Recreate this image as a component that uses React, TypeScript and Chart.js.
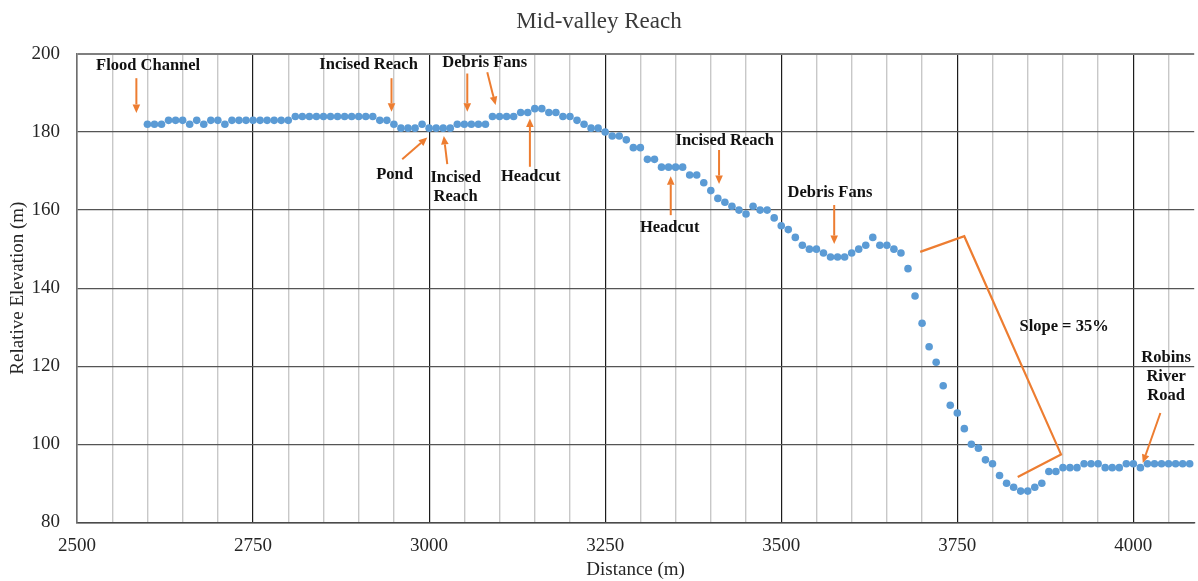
import React, { useEffect, useRef } from 'react';
import { Chart, registerables } from 'chart.js';

Chart.register(...registerables);

const chartTitle = 'Mid-valley Reach';
const xAxisTitle = 'Distance (m)';
const yAxisTitle = 'Relative Elevation (m)';

const distances = [
  2600, 2610, 2620, 2630, 2640, 2650, 2660, 2670, 2680, 2690,
  2700, 2710, 2720, 2730, 2740, 2750, 2760, 2770, 2780, 2790,
  2800, 2810, 2820, 2830, 2840, 2850, 2860, 2870, 2880, 2890,
  2900, 2910, 2920, 2930, 2940, 2950, 2960, 2970, 2980, 2990,
  3000, 3010, 3020, 3030, 3040, 3050, 3060, 3070, 3080, 3090,
  3100, 3110, 3120, 3130, 3140, 3150, 3160, 3170, 3180, 3190,
  3200, 3210, 3220, 3230, 3240, 3250, 3260, 3270, 3280, 3290,
  3300, 3310, 3320, 3330, 3340, 3350, 3360, 3370, 3380, 3390,
  3400, 3410, 3420, 3430, 3440, 3450, 3460, 3470, 3480, 3490,
  3500, 3510, 3520, 3530, 3540, 3550, 3560, 3570, 3580, 3590,
  3600, 3610, 3620, 3630, 3640, 3650, 3660, 3670, 3680, 3690,
  3700, 3710, 3720, 3730, 3740, 3750, 3760, 3770, 3780, 3790,
  3800, 3810, 3820, 3830, 3840, 3850, 3860, 3870, 3880, 3890,
  3900, 3910, 3920, 3930, 3940, 3950, 3960, 3970, 3980, 3990,
  4000, 4010, 4020, 4030, 4040, 4050, 4060, 4070, 4080,
];

const elevations = [
  182, 182, 182, 183, 183, 183, 182, 183, 182, 183,
  183, 182, 183, 183, 183, 183, 183, 183, 183, 183,
  183, 184, 184, 184, 184, 184, 184, 184, 184, 184,
  184, 184, 184, 183, 183, 182, 181, 181, 181, 182,
  181, 181, 181, 181, 182, 182, 182, 182, 182, 184,
  184, 184, 184, 185, 185, 186, 186, 185, 185, 184,
  184, 183, 182, 181, 181, 180, 179, 179, 178, 176,
  176, 173, 173, 171, 171, 171, 171, 169, 169, 167,
  165, 163, 162, 161, 160, 159, 161, 160, 160, 158,
  156, 155, 153, 151, 150, 150, 149, 148, 148, 148,
  149, 150, 151, 153, 151, 151, 150, 149, 145, 138,
  131, 125, 121, 115, 110, 108, 104, 100, 99, 96,
  95, 92, 90, 89, 88, 88, 89, 90, 93, 93,
  94, 94, 94, 95, 95, 95, 94, 94, 94, 95,
  95, 94, 95, 95, 95, 95, 95, 95, 95,
];

// Annotation labels (data coordinates of the first line's centre)
const noteTexts = [
  ['Flood Channel'],
  ['Incised Reach'],
  ['Debris Fans'],
  ['Pond'],
  ['Incised', 'Reach'],
  ['Headcut'],
  ['Incised Reach'],
  ['Headcut'],
  ['Debris Fans'],
  ['Slope = 35%'],
  ['Robins', 'River', 'Road'],
];
const noteX = [2601, 2914, 3079, 2951, 3037.6, 3144.2, 3419.8, 3341.7, 3569.1, 3901.6, 4046.5];
const noteY = [196.9, 197.2, 197.7, 169.0, 168.2, 168.5, 177.8, 155.6, 164.5, 130.1, 122.1];

// Arrows: start (x1, y1) -> tip (x2, y2), data coordinates
const arrowX1 = [2584.3, 2946.6, 3054.2, 3082.6, 2961.8, 3025.8, 3143.1, 3411.7, 3343.1, 3575.2, 4038.4];
const arrowY1 = [193.8, 193.8, 195.0, 195.3, 173.0, 171.8, 171.1, 175.4, 158.7, 161.3, 108.0];
const arrowX2 = [2584.3, 2946.6, 3054.2, 3094.4, 2997.4, 3020.9, 3143.1, 3411.7, 3343.1, 3575.2, 4013.4];
const arrowY2 = [184.9, 185.2, 185.2, 186.9, 178.6, 179.0, 183.5, 166.7, 168.7, 151.3, 95.2];

// Slope bracket polyline
const slopeX = [3697.3, 3759.9, 3897.3, 3835.8];
const slopeY = [149.3, 153.3, 97.4, 91.6];

const ORANGE = '#ED7D31';
const POINT_BLUE = '#5B9BD5';
const SERIF = '"Liberation Serif", "Times New Roman", serif';

function drawArrow(ctx: CanvasRenderingContext2D, x1: number, y1: number, x2: number, y2: number) {
  const ang = Math.atan2(y2 - y1, x2 - x1);
  const headLen = 8.5;
  const headHalf = 3.8;
  const bx = x2 - headLen * Math.cos(ang);
  const by = y2 - headLen * Math.sin(ang);
  ctx.beginPath();
  ctx.moveTo(x1, y1);
  ctx.lineTo(bx, by);
  ctx.stroke();
  ctx.beginPath();
  ctx.moveTo(x2, y2);
  ctx.lineTo(bx + headHalf * Math.sin(ang), by - headHalf * Math.cos(ang));
  ctx.lineTo(bx - headHalf * Math.sin(ang), by + headHalf * Math.cos(ang));
  ctx.closePath();
  ctx.fill();
}

const annotationPlugin = {
  id: 'riverAnnotations',
  afterDatasetsDraw(chart: any) {
    const { ctx } = chart;
    const xs = chart.scales.x;
    const ys = chart.scales.y;
    ctx.save();
    ctx.strokeStyle = ORANGE;
    ctx.fillStyle = ORANGE;
    ctx.lineWidth = 2;
    ctx.lineCap = 'butt';
    for (let i = 0; i < arrowX1.length; i++) {
      drawArrow(
        ctx,
        xs.getPixelForValue(arrowX1[i]),
        ys.getPixelForValue(arrowY1[i]),
        xs.getPixelForValue(arrowX2[i]),
        ys.getPixelForValue(arrowY2[i])
      );
    }
    ctx.lineWidth = 2.2;
    ctx.lineJoin = 'miter';
    ctx.beginPath();
    slopeX.forEach((v, i) => {
      const px = xs.getPixelForValue(v);
      const py = ys.getPixelForValue(slopeY[i]);
      if (i === 0) ctx.moveTo(px, py);
      else ctx.lineTo(px, py);
    });
    ctx.stroke();

    ctx.fillStyle = '#111111';
    ctx.font = `bold 16.5px ${SERIF}`;
    ctx.textAlign = 'center';
    ctx.textBaseline = 'middle';
    noteTexts.forEach((lines, i) => {
      const px = xs.getPixelForValue(noteX[i]);
      const py = ys.getPixelForValue(noteY[i]);
      lines.forEach((t, j) => ctx.fillText(t, px, py + j * 19));
    });
    ctx.restore();
  },
};

export default function App() {
  const canvasRef = useRef<HTMLCanvasElement | null>(null);

  useEffect(() => {
    if (!canvasRef.current) return;
    const points = distances.map((d, i) => ({ x: d, y: elevations[i] }));
    const chart = new Chart(canvasRef.current, {
      type: 'scatter',
      data: {
        datasets: [
          {
            label: 'Elevation',
            data: points,
            backgroundColor: POINT_BLUE,
            borderColor: POINT_BLUE,
            borderWidth: 0,
            pointRadius: 3.8,
            pointHoverRadius: 3.8,
            showLine: false,
          },
        ],
      },
      options: {
        animation: false,
        responsive: true,
        maintainAspectRatio: false,
        layout: { padding: { left: 0, right: 0, top: 0, bottom: 0 } },
        plugins: {
          legend: { display: false },
          tooltip: { enabled: false },
          title: {
            display: true,
            text: chartTitle,
            color: '#3a3a3a',
            font: { family: SERIF, size: 23, weight: 'normal' },
            padding: { top: 8, bottom: 18.4 },
          },
        },
        scales: {
          x: {
            type: 'linear',
            min: 2500,
            max: 4086.4,
            afterFit(scale: any) {
              scale.height = 58.7;
            },
            ticks: {
              stepSize: 50,
              includeBounds: false,
              autoSkip: false,
              maxRotation: 0,
              minRotation: 0,
              padding: 12,
              color: '#262626',
              font: { family: SERIF, size: 19 },
              callback: (v: any) => (Number(v) % 250 === 0 ? String(v) : ''),
            },
            grid: {
              drawTicks: false,
              color: (c: any) =>
                c.tick && Number(c.tick.value) % 250 === 0 ? '#1c1c1c' : '#c8c8c8',
              lineWidth: (c: any) =>
                c.tick && Number(c.tick.value) % 250 === 0 ? 1.2 : 1.4,
            },
            border: { display: true, color: '#4a4a4a', width: 1.5 },
            title: {
              display: true,
              text: xAxisTitle,
              color: '#262626',
              font: { family: SERIF, size: 19 },
              padding: { top: 0, bottom: 0 },
            },
          },
          y: {
            type: 'linear',
            min: 80,
            max: 200,
            afterFit(scale: any) {
              scale.width = 77;
            },
            ticks: {
              stepSize: 20,
              padding: 17,
              color: '#262626',
              font: { family: SERIF, size: 19 },
            },
            grid: {
              drawTicks: false,
              color: (c: any) =>
                c.tick && Number(c.tick.value) === 200 ? '#7f7f7f' : '#555555',
              lineWidth: (c: any) =>
                c.tick && Number(c.tick.value) === 200 ? 2 : 1.3,
            },
            border: { display: true, color: '#6e6e6e', width: 1.5 },
            title: {
              display: true,
              text: yAxisTitle,
              color: '#262626',
              font: { family: SERIF, size: 19 },
              padding: { top: 6.6, bottom: 0 },
            },
          },
        },
      },
      plugins: [annotationPlugin],
    });
    return () => chart.destroy();
  }, []);

  return (
    <div
      style={{
        position: 'absolute',
        left: 0,
        top: 0,
        width: '1198px',
        height: '581px',
        background: '#ffffff',
      }}
    >
      <canvas ref={canvasRef} />
    </div>
  );
}
